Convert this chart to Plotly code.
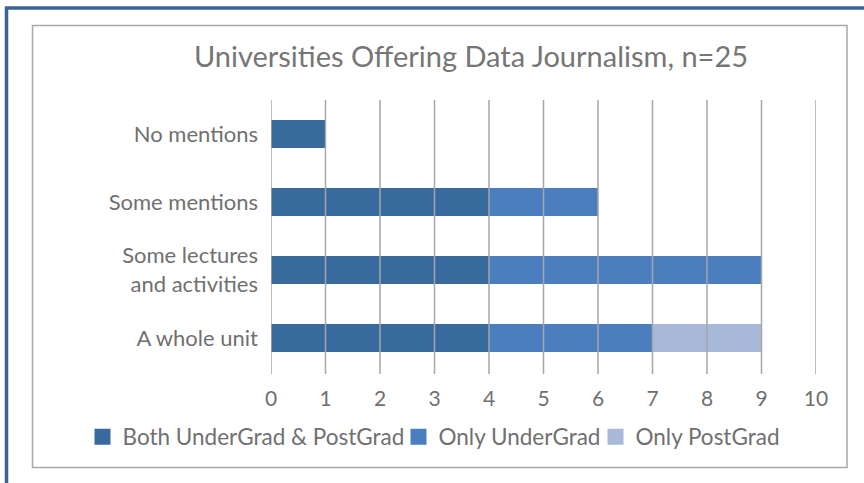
import plotly.graph_objects as go

categories = ["A whole unit", "Some lectures<br>and activities", "Some mentions", "No mentions"]
both_vals = [4, 4, 4, 1]
under_vals = [3, 5, 2, 0]
post_vals = [2, 0, 0, 0]
x_ticks = [0, 1, 2, 3, 4, 5, 6, 7, 8, 9, 10]

series = [
    ("Both UnderGrad & PostGrad", both_vals, "#386a9e"),
    ("Only UnderGrad", under_vals, "#4a7ebf"),
    ("Only PostGrad", post_vals, "#a9b9da"),
]
legend_ids = ["legend", "legend2", "legend3"]
legend_left_px = [82.5, 398.5, 595.5]

fig = go.Figure()
for (name, vals, col), lid in zip(series, legend_ids):
    fig.add_trace(go.Bar(
        y=categories, x=vals, name=name, orientation="h",
        marker=dict(color=col, line=dict(width=0)),
        showlegend=False, legendgroup=name,
    ))
    # legend key (square swatch) for this series
    fig.add_trace(go.Scatter(
        x=[None], y=[None], mode="markers", name=name, legend=lid,
        legendgroup=name,
        marker=dict(symbol="square", size=16, color=col, line=dict(width=0)),
        showlegend=True,
    ))

W, H = 864, 483
L, R, T, B = 271, 816, 100, 372

def px(xp):
    return (xp - L) / (R - L)

def py(yp):
    return (B - yp) / (B - T)

shapes = []
# gridlines drawn above bars
for t in x_ticks:
    shapes.append(dict(type="line", xref="x", yref="paper", x0=t, x1=t,
                       y0=py(374), y1=1.0, layer="above",
                       line=dict(color="#a6a6a6", width=1.5)))
# inner grey frame
shapes.append(dict(type="rect", xref="paper", yref="paper",
                   x0=px(32.5), x1=px(847), y0=py(467.5), y1=py(25.5),
                   line=dict(color="#a9a9a9", width=1.5), layer="below"))
# outer blue frame lines
shapes.append(dict(type="line", xref="paper", yref="paper",
                   x0=px(6.5), x1=px(6.5), y0=py(7), y1=py(490),
                   line=dict(color="#3a6495", width=3.5)))
shapes.append(dict(type="line", xref="paper", yref="paper",
                   x0=px(5), x1=px(870), y0=py(8), y1=py(8),
                   line=dict(color="#3a6495", width=3.5)))

font_family = "Lato, 'Open Sans', sans-serif"
grey = "#707070"

legend_style = dict(orientation="h", xanchor="left",
                    y=py(437), yanchor="middle",
                    font=dict(size=22.5, color=grey), itemwidth=30,
                    bgcolor="rgba(0,0,0,0)", itemclick=False,
                    itemdoubleclick=False, itemsizing="trace")

layout_legends = {}
for lid, lx in zip(legend_ids, legend_left_px):
    layout_legends[lid] = dict(legend_style, x=px(lx))

fig.update_layout(
    width=W, height=H,
    margin=dict(l=L, r=W - R, t=T, b=H - B, autoexpand=False),
    barmode="stack",
    bargap=0.6,
    paper_bgcolor="white",
    plot_bgcolor="white",
    font=dict(family=font_family, color=grey),
    title=dict(text="Universities Offering Data Journalism, n=25",
               x=471 / W, xanchor="center", y=1 - 57 / H, yanchor="middle",
               font=dict(size=29, color="#767676", family=font_family)),
    xaxis=dict(range=[0, 10], tickvals=x_ticks, showgrid=False, zeroline=False,
               showline=False, ticks="", ticklabelstandoff=12,
               tickfont=dict(size=21, color=grey)),
    yaxis=dict(categoryorder="array", categoryarray=categories,
               showgrid=False, zeroline=False, showline=False, ticks="",
               ticklabelstandoff=12,
               tickfont=dict(size=22, color=grey)),
    shapes=shapes,
    showlegend=True,
    **layout_legends,
)

fig.write_html("out.html", config={"displayModeBar": False},
               post_script="document.body.style.margin='0';")
